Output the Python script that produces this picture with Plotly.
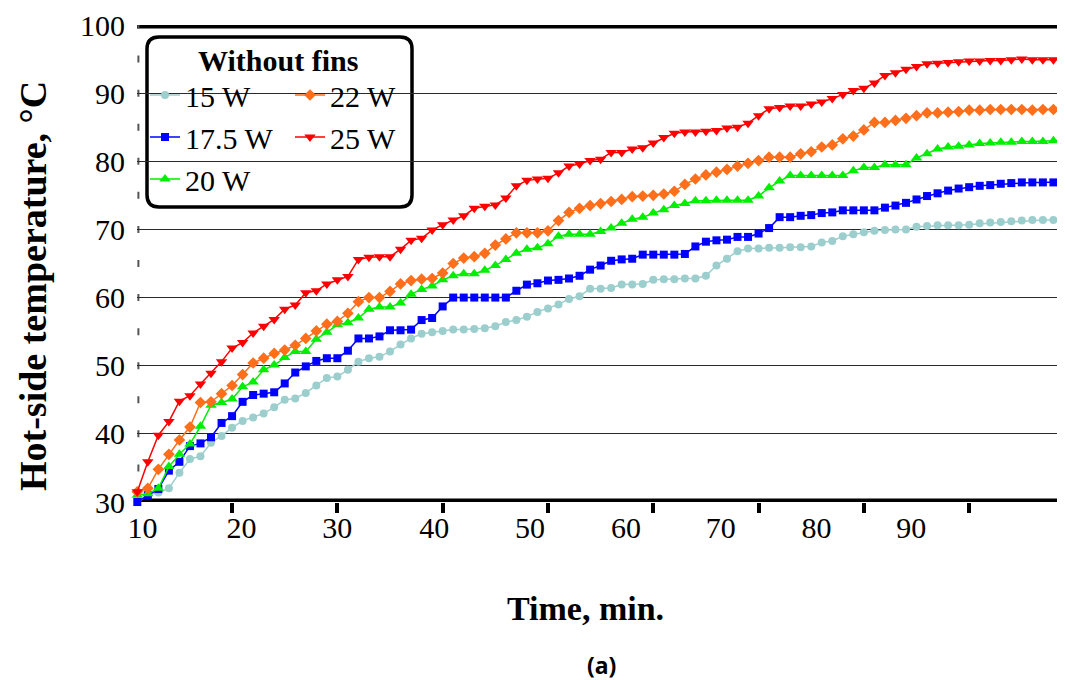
import plotly.graph_objects as go

# ---------------- data ----------------
time_min = list(range(10, 99))  # 89 samples, one per minute

t15 = [29.9, 31.0, 31.4, 32.0, 34.3, 36.3, 36.7, 38.7, 39.7, 40.9, 41.9, 42.4, 43.0, 43.9, 45.0, 45.2, 46.0, 47.1, 48.2,
       48.4, 49.4, 50.6, 51.1, 51.3, 52.1, 53.1, 54.0, 54.7, 54.9, 55.1, 55.3, 55.3, 55.4, 55.5, 55.8, 56.4, 56.7,
       57.2, 57.9, 58.4, 59.0, 59.8, 60.2, 61.3, 61.3, 61.4, 61.9, 61.9, 62.0, 62.6, 62.7, 62.7, 62.8, 62.8, 63.2,
       64.7, 65.7, 66.8, 67.2, 67.2, 67.3, 67.3, 67.4, 67.4, 67.5, 68.1, 68.3, 69.0, 69.3, 69.6, 69.8, 69.9, 70.0,
       70.0, 70.4, 70.5, 70.6, 70.6, 70.6, 70.7, 70.9, 71.0, 71.1, 71.2, 71.3, 71.4, 71.4, 71.4, 71.4]

t175 = [30.0, 31.0, 31.9, 34.6, 35.9, 38.2, 38.6, 39.5, 41.6, 42.6, 44.7, 45.7, 45.9, 46.1, 47.4, 49.0, 49.9, 50.7, 51.1,
        51.1, 52.2, 54.0, 54.0, 54.3, 55.2, 55.2, 55.3, 56.7, 57.0, 58.7, 60.0, 60.0, 60.0, 60.0, 60.0, 60.0, 61.0,
        61.9, 62.1, 62.5, 62.6, 62.8, 63.2, 64.1, 64.7, 65.4, 65.6, 65.7, 66.3, 66.3, 66.3, 66.3, 66.4, 67.5, 68.2,
        68.4, 68.5, 68.9, 68.9, 69.4, 70.2, 71.8, 71.8, 72.0, 72.1, 72.4, 72.5, 72.8, 72.8, 72.8, 72.8, 73.2, 73.5,
        73.9, 74.4, 74.9, 75.3, 75.7, 76.0, 76.2, 76.4, 76.5, 76.7, 76.8, 76.9, 76.9, 76.9, 76.9, 77.0]

t20 = [31.0, 31.2, 32.0, 35.2, 37.0, 38.5, 41.1, 44.2, 44.6, 45.1, 46.9, 47.6, 49.4, 50.1, 51.2, 52.1, 52.1, 53.9, 54.9,
       56.0, 56.3, 57.0, 58.3, 58.6, 58.6, 59.2, 60.5, 61.2, 61.7, 62.6, 63.2, 63.5, 63.5, 64.0, 64.7, 65.6, 66.5,
       67.1, 67.3, 67.9, 69.0, 69.3, 69.3, 69.3, 69.7, 70.2, 70.9, 71.5, 71.8, 72.4, 72.9, 73.5, 73.8, 74.2, 74.2,
       74.3, 74.3, 74.3, 74.3, 74.9, 76.1, 77.1, 77.9, 77.9, 77.9, 77.9, 77.9, 77.9, 78.6, 79.1, 79.1, 79.5, 79.5,
       79.5, 80.5, 81.1, 81.8, 82.1, 82.2, 82.4, 82.6, 82.7, 82.8, 82.8, 82.9, 82.9, 82.9, 83.0, 83.1]

t22 = [31.5, 32.0, 34.8, 37.0, 39.1, 41.0, 44.6, 44.7, 45.9, 47.1, 48.7, 50.4, 51.1, 51.8, 52.3, 53.0, 54.0, 55.1, 56.1,
       56.5, 57.7, 59.4, 60.0, 60.0, 60.9, 62.0, 62.5, 62.7, 62.8, 63.6, 65.0, 65.8, 66.0, 66.5, 67.7, 68.6, 69.5,
       69.5, 69.5, 69.8, 71.3, 72.5, 73.1, 73.5, 73.8, 74.1, 74.4, 74.8, 74.9, 75.0, 75.2, 75.6, 76.6, 77.4, 78.0,
       78.4, 78.8, 79.3, 79.7, 80.1, 80.6, 80.6, 80.6, 81.1, 81.4, 82.1, 82.4, 83.3, 83.7, 84.6, 85.7, 85.7, 86.0,
       86.3, 86.7, 87.1, 87.1, 87.2, 87.3, 87.5, 87.5, 87.6, 87.6, 87.6, 87.6, 87.5, 87.6, 87.6, 87.6]

t25 = [31.5, 35.9, 39.8, 41.8, 44.8, 45.6, 47.3, 48.9, 50.6, 52.6, 53.4, 54.8, 55.8, 56.8, 58.3, 58.9, 60.7, 61.0, 62.0,
       62.6, 63.1, 65.6, 65.9, 66.0, 66.0, 67.1, 68.4, 68.7, 69.9, 70.7, 71.4, 72.0, 73.1, 73.4, 73.6, 74.6, 76.4,
       77.2, 77.4, 77.5, 78.3, 79.3, 79.6, 80.1, 80.3, 81.3, 81.3, 81.8, 82.0, 82.7, 83.5, 84.1, 84.3, 84.3, 84.4,
       84.5, 84.9, 85.0, 85.6, 86.7, 87.7, 87.9, 88.1, 88.1, 88.4, 88.7, 89.2, 89.8, 90.4, 90.7, 91.5, 92.6, 93.0,
       93.5, 93.9, 94.3, 94.4, 94.5, 94.6, 94.7, 94.7, 94.8, 94.8, 94.9, 95.0, 94.9, 94.9, 94.9, 94.9]

series_names = ["15 W", "17.5 W", "20 W", "22 W", "25 W"]
x_label_pos = [10.5, 19.9, 29.0, 38.2, 47.3, 56.4, 65.4, 74.5, 83.5]
x_label_text = ["10", "20", "30", "40", "50", "60", "70", "80", "90"]
x_tick_pos = [19, 29, 39, 49, 59, 69, 79, 89]
y_ticks = [30, 40, 50, 60, 70, 80, 90, 100]

# ---------------- styles ----------------
styles = {
    "15 W":   dict(color="#9CCECE", symbol="circle", size=8, legend="legend", rank=1),
    "17.5 W": dict(color="#0000FF", symbol="square", size=8, legend="legend", rank=2),
    "20 W":   dict(color="#00EE00", symbol="triangle-up", size=10, legend="legend", rank=3),
    "22 W":   dict(color="#FF6E1A", symbol="diamond", size=9, legend="legend2", rank=4),
    "25 W":   dict(color="#FF0000", symbol="triangle-down", size=10, legend="legend2", rank=5),
}
values = {"15 W": t15, "17.5 W": t175, "20 W": t20, "22 W": t22, "25 W": t25}

SERIF = "Liberation Serif, Times New Roman, serif"

fig = go.Figure()
for name in series_names:
    s = styles[name]
    fig.add_trace(go.Scatter(
        x=time_min, y=values[name], name=name, mode="lines+markers",
        line=dict(color=s["color"], width=1.5),
        marker=dict(color=s["color"], symbol=s["symbol"], size=s["size"]),
        legend=s["legend"], legendrank=s["rank"], cliponaxis=False,
    ))

# The page body adds an 8px margin, so the figure is offset by 8px.
FIG_W, FIG_H = 1057, 672
ML, MT = 129, 17
plot_h = 477
MB = FIG_H - MT - plot_h
plot_w = FIG_W - ML
px_per_min = 10.53
x0 = 10 - (137 - 136.7) / px_per_min
x1 = x0 + plot_w / px_per_min


def px_x(sx):
    """screen x (reference px) -> paper x"""
    return (sx - 8 - ML) / plot_w


def px_y(sy):
    """screen y (reference px) -> paper y"""
    return (FIG_H - MB - (sy - 8)) / plot_h


fig.update_layout(
    width=FIG_W, height=FIG_H,
    margin=dict(l=ML, r=0, t=MT, b=MB, autoexpand=False),
    paper_bgcolor="white", plot_bgcolor="white",
    showlegend=True,
    font=dict(family=SERIF, color="black"),
    xaxis=dict(
        range=[x0, x1], showgrid=False, zeroline=False, showline=False,
        tickmode="array", tickvals=x_label_pos, ticktext=x_label_text,
        ticks="", tickfont=dict(family=SERIF, size=30, color="black"),
        ticklabelstandoff=5,
        minor=dict(tickmode="array", tickvals=x_tick_pos, ticks="outside",
                   ticklen=10, tickwidth=4, tickcolor="black", showgrid=False),
    ),
    yaxis=dict(
        range=[30, 100], showgrid=True, gridcolor="#2a2a2a", gridwidth=1,
        zeroline=False, showline=False,
        tickmode="array", tickvals=y_ticks, ticks="",
        tickfont=dict(family=SERIF, size=30, color="black"),
        ticklabelstandoff=11,
    ),
    legend=dict(
        x=px_x(145), y=px_y(69), xanchor="left", yanchor="top",
        bgcolor="rgba(0,0,0,0)", borderwidth=0,
        font=dict(family=SERIF, size=30, color="black"),
        tracegroupgap=0, itemwidth=30,
    ),
    legend2=dict(
        x=px_x(290), y=px_y(69), xanchor="left", yanchor="top",
        bgcolor="rgba(0,0,0,0)", borderwidth=0,
        font=dict(family=SERIF, size=30, color="black"),
        tracegroupgap=0, itemwidth=30,
    ),
)

# legend box with rounded corners (paper coords)
bx0, bx1 = px_x(147), px_x(412)
by0, by1 = px_y(207), px_y(37)
rx, ry = 12 / plot_w, 12 / plot_h
path = (f"M {bx0+rx},{by1} L {bx1-rx},{by1} Q {bx1},{by1} {bx1},{by1-ry} "
        f"L {bx1},{by0+ry} Q {bx1},{by0} {bx1-rx},{by0} "
        f"L {bx0+rx},{by0} Q {bx0},{by0} {bx0},{by0+ry} "
        f"L {bx0},{by1-ry} Q {bx0},{by1} {bx0+rx},{by1} Z")
fig.add_shape(type="path", path=path, xref="paper", yref="paper",
              fillcolor="white", line=dict(color="black", width=3.5), layer="between")

# thick frame lines at 30 and 100
for yv in (30, 100):
    fig.add_shape(type="line", xref="paper", yref="y", x0=0, x1=1, y0=yv, y1=yv,
                  line=dict(color="black", width=7), layer="between")

# dashed vertical axis line
fig.add_shape(type="line", xref="paper", yref="y", x0=0.0015, x1=0.0015,
              y0=100 + 3.5 / 6.81, y1=30,
              line=dict(color="#555555", width=2, dash="7px,27.07px"), layer="between")

# titles
ann = dict(xref="paper", yref="paper", showarrow=False, xanchor="center", yanchor="middle")
fig.add_annotation(text="<b>Without fins</b>", x=px_x(278), y=px_y(61),
                   font=dict(family=SERIF, size=30, color="black"), **ann)
fig.add_annotation(text="<b>Hot-side temperature, °C</b>", x=px_x(33), y=px_y(286),
                   textangle=-90, font=dict(family=SERIF, size=38, color="black"), **ann)
fig.add_annotation(text="<b>Time, min.</b>", x=px_x(585), y=px_y(608),
                   font=dict(family=SERIF, size=34, color="black"), **ann)
fig.add_annotation(text="<b>(a)</b>", x=px_x(601), y=px_y(665),
                   font=dict(family="Noto Sans, sans-serif", size=23, color="black"), **ann)

fig.write_html("out.html")
